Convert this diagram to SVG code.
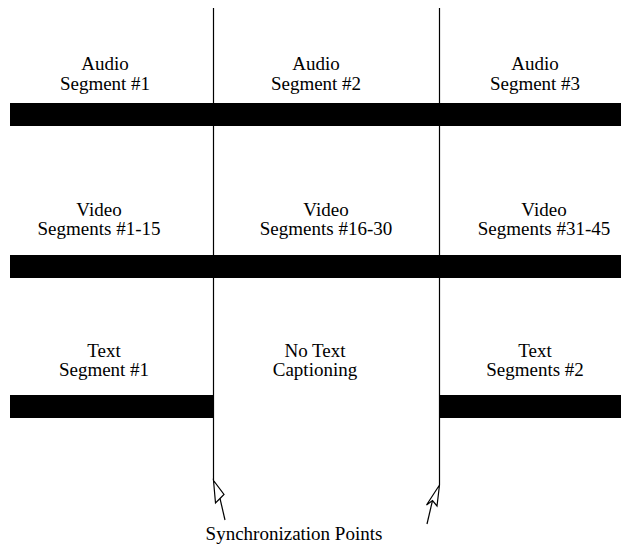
<svg xmlns="http://www.w3.org/2000/svg" width="631" height="548" viewBox="0 0 631 548">
  <style>
    .lbl { font-family: "Liberation Serif", "Times New Roman", serif; font-size: 19px; fill: #000; text-anchor: middle; }
    .bar { fill: #000; }
    .sync { stroke: #000; stroke-width: 1.2; fill: none; }
    .arrow { stroke: #000; stroke-width: 1.2; fill: #fff; stroke-linejoin: miter; }
  </style>

  <!-- media tracks -->
  <g id="audio-track">
    <rect class="bar" x="10" y="103" width="611" height="23"/>
    <g id="audio-1"><text class="lbl" x="105" y="70">Audio</text><text class="lbl" x="105" y="90">Segment #1</text></g>
    <g id="audio-2"><text class="lbl" x="316" y="70">Audio</text><text class="lbl" x="316" y="90">Segment #2</text></g>
    <g id="audio-3"><text class="lbl" x="535" y="70">Audio</text><text class="lbl" x="535" y="90">Segment #3</text></g>
  </g>

  <g id="video-track">
    <rect class="bar" x="10" y="255" width="611" height="23"/>
    <g id="video-1"><text class="lbl" x="99" y="216">Video</text><text class="lbl" x="99" y="235">Segments #1-15</text></g>
    <g id="video-2"><text class="lbl" x="326" y="216">Video</text><text class="lbl" x="326" y="235">Segments #16-30</text></g>
    <g id="video-3"><text class="lbl" x="544" y="216">Video</text><text class="lbl" x="544" y="235">Segments #31-45</text></g>
  </g>

  <g id="text-track">
    <rect class="bar" x="10" y="395" width="203" height="23"/>
    <rect class="bar" x="440" y="395" width="181" height="23"/>
    <g id="text-1"><text class="lbl" x="104" y="357">Text</text><text class="lbl" x="104" y="376">Segment #1</text></g>
    <g id="text-gap"><text class="lbl" x="315" y="357">No Text</text><text class="lbl" x="315" y="376">Captioning</text></g>
    <g id="text-2"><text class="lbl" x="535" y="357">Text</text><text class="lbl" x="535" y="376">Segments #2</text></g>
  </g>

  <!-- synchronization lines and pointers -->
  <g id="connectors">
    <line class="sync" x1="213.5" y1="8" x2="213.5" y2="480"/>
    <line class="sync" x1="439.5" y1="8" x2="439.5" y2="485"/>
    <line class="sync" x1="220" y1="498.5" x2="225" y2="520"/>
    <polygon class="arrow" points="213.5,480.5 215.5,503 220,498.5 224,494.5"/>
    <line class="sync" x1="432.5" y1="500.5" x2="427" y2="524"/>
    <polygon class="arrow" points="439.5,485 426.5,505 432.5,500.5 437,506"/>
  </g>

  <g id="sync-label">
    <text class="lbl" x="294" y="540">Synchronization Points</text>
  </g>
</svg>
